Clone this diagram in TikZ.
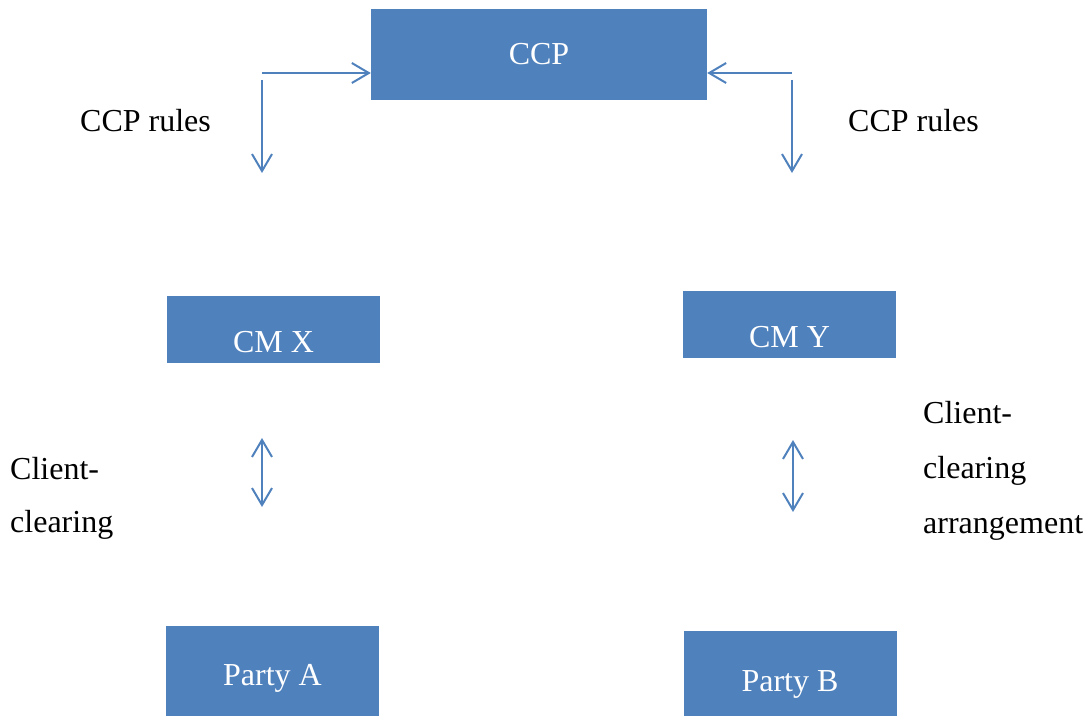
\documentclass[tikz,border=0pt]{standalone}
\usepackage{fontspec}
\setmainfont{Liberation Serif}
\usetikzlibrary{arrows.meta}
\definecolor{boxblue}{HTML}{4F81BD}
\tikzset{
	blkbox/.style={fill=boxblue, text=white, inner sep=0pt, minimum width=213pt, font=\fontsize{32}{38}\selectfont},
	lowtext/.style={text height=45pt, text depth=0pt},
	link/.style={boxblue, line width=2pt, -{Straight Barb[length=17pt,width=20pt]}},
	twoway/.style={boxblue, line width=2pt, {Straight Barb[length=17pt,width=20pt]}-{Straight Barb[length=17pt,width=20pt]}},
	note/.style={inner sep=0pt, align=left, font=\fontsize{32}{54}\selectfont}
}
\begin{document}
\begin{tikzpicture}[x=1pt, y=-1pt]
				\useasboundingbox (0,0) rectangle (1087,717);
				\node[blkbox, minimum width=336pt, minimum height=91pt] (ccp) at (539,54.5) {CCP};
				\node[blkbox, lowtext, minimum height=67pt] (cmx) at (273.5,329.5) {CM X};
				\node[blkbox, lowtext, minimum height=67pt] (cmy) at (789.5,324.5) {CM Y};
				\node[blkbox, minimum height=90pt, text height=28pt, text depth=0pt] (pa) at (272.5,671) {Party A};
				\node[blkbox, minimum height=85pt, text height=35pt, text depth=0pt] (pb) at (790,673.5) {Party B};
				\coordinate (lc) at (262,73);
				\coordinate (ld) at (262,80);
				\coordinate (lt) at (262,173);
				\coordinate (rc) at (792,73);
				\coordinate (rd) at (792,80);
				\coordinate (rt) at (792,173);
				\coordinate (la) at (262,438);
				\coordinate (lb) at (262,507);
				\coordinate (ra) at (793,440);
				\coordinate (rb) at (793,512);
				\draw[link] (lc) -- (lc -| ccp.west);
				\draw[link] (ld) -- (lt);
				\draw[link] (rc) -- (rc -| ccp.east);
				\draw[link] (rd) -- (rt);
				\draw[twoway] (la) -- (lb);
				\draw[twoway] (ra) -- (rb);
				\node[note, anchor=base west] (rulesl) at (80,131) {CCP rules};
				\node[note, anchor=base west] (rulesr) at (848,131) {CCP rules};
				\node[note, anchor=base west, font=\fontsize{32}{53}\selectfont] (clearl) at (10,532) {Client-\\clearing};
				\node[note, anchor=base west, font=\fontsize{32}{55}\selectfont] (clearr) at (923,533) {Client-\\clearing\\arrangement};
		\end{tikzpicture}
\end{document}
